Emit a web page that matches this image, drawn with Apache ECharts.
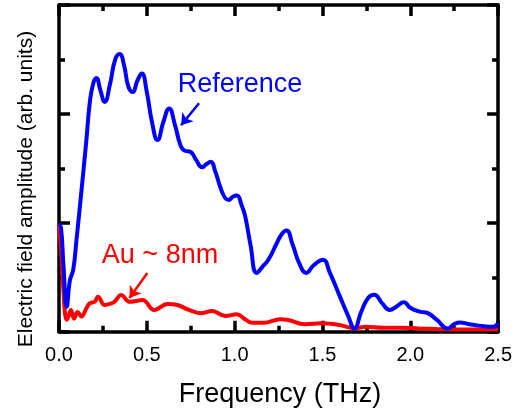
<!DOCTYPE html>
<html>
<head>
<meta charset="utf-8">
<script src="https://cdn.jsdelivr.net/npm/echarts@6/dist/echarts.min.js"></script>
<style>
  html, body { margin: 0; padding: 0; background: #fff; }
  #chart { width: 515px; height: 416px; }
</style>
</head>
<body>
<div id="chart"></div>
<script>
// Spectral amplitude, [frequency (THz), amplitude (arb. units)]
const referenceSpectrum = [
  [0.0, 0.99], [0.011, 0.96], [0.025, 0.62], [0.044, 0.23], [0.062, 0.47],
  [0.081, 0.57], [0.10, 0.85], [0.119, 1.15], [0.156, 1.76], [0.175, 2.10],
  [0.195, 2.28], [0.213, 2.33], [0.235, 2.22], [0.260, 2.11], [0.29, 2.27],
  [0.320, 2.50], [0.345, 2.55], [0.37, 2.45], [0.395, 2.25], [0.420, 2.20],
  [0.445, 2.30], [0.471, 2.37], [0.50, 2.20], [0.53, 1.92], [0.561, 1.76],
  [0.595, 1.93], [0.627, 2.05], [0.66, 1.90], [0.69, 1.72], [0.712, 1.665],
  [0.75, 1.65], [0.78, 1.58], [0.815, 1.51], [0.84, 1.54], [0.863, 1.56],
  [0.89, 1.47], [0.92, 1.32], [0.945, 1.23], [0.966, 1.21], [0.99, 1.24],
  [1.013, 1.25], [1.04, 1.16], [1.06, 1.06], [1.09, 0.80], [1.126, 0.54],
  [1.16, 0.60], [1.192, 0.66], [1.239, 0.81], [1.27, 0.90], [1.295, 0.93],
  [1.33, 0.80], [1.37, 0.62], [1.408, 0.54], [1.45, 0.61], [1.503, 0.66],
  [1.54, 0.55], [1.60, 0.32], [1.645, 0.15], [1.682, 0.03], [1.72, 0.18],
  [1.76, 0.31], [1.795, 0.34], [1.84, 0.26], [1.884, 0.20], [1.92, 0.23],
  [1.964, 0.27], [2.00, 0.22], [2.054, 0.185], [2.10, 0.17], [2.15, 0.11],
  [2.215, 0.03], [2.25, 0.07], [2.284, 0.085], [2.33, 0.07], [2.373, 0.06],
  [2.42, 0.05], [2.473, 0.045], [2.50, 0.08]
];

const goldSpectrum = [
  [0.0, 0.99], [0.012, 0.75], [0.025, 0.38], [0.034, 0.17], [0.044, 0.11],
  [0.056, 0.15], [0.068, 0.20], [0.086, 0.12], [0.106, 0.18], [0.128, 0.14],
  [0.156, 0.215], [0.175, 0.26], [0.203, 0.275], [0.222, 0.32], [0.260, 0.245],
  [0.298, 0.26], [0.316, 0.275], [0.354, 0.337], [0.401, 0.275], [0.476, 0.29],
  [0.542, 0.20], [0.618, 0.254], [0.674, 0.245], [0.740, 0.20], [0.806, 0.17],
  [0.872, 0.19], [0.947, 0.145], [1.013, 0.16], [1.055, 0.12], [1.098, 0.083],
  [1.173, 0.083], [1.258, 0.114], [1.305, 0.107], [1.399, 0.068], [1.493, 0.077],
  [1.597, 0.061], [1.682, 0.031], [1.747, 0.046], [1.842, 0.037], [1.945, 0.037],
  [2.05, 0.03], [2.15, 0.025], [2.30, 0.02], [2.50, 0.02]
];

// Annotation arrows: [tail, head] in data coordinates
const referenceArrow = [[0.797, 2.098], [0.695, 1.896]];
const goldArrow = [[0.503, 0.539], [0.401, 0.309]];

const xTicks = { min: 0, max: 2.5, interval: 0.5 };
const yTicks = { min: 0, max: 3, interval: 1 };

const BLUE = '#0000ff';
const RED = '#ff0000';
const FONT = 'Liberation Sans, Arial, sans-serif';

const frame = { show: true, onZero: false, lineStyle: { color: '#000', width: 3.5 } };
const majorTick = { show: true, inside: true, length: 11, lineStyle: { color: '#000', width: 3.5 } };
const minorTick = { show: true, splitNumber: 2, length: 6, lineStyle: { color: '#000', width: 3.5 } };

function xAxisDef(position, showLabels) {
  return {
    type: 'value', position, ...xTicks,
    axisLine: frame, axisTick: majorTick, minorTick,
    splitLine: { show: false }, minorSplitLine: { show: false },
    axisLabel: {
      show: showLabels, margin: 14, fontSize: 20, color: '#000', fontFamily: FONT,
      formatter: v => v.toFixed(1)
    }
  };
}
function yAxisDef(position) {
  return {
    type: 'value', position, ...yTicks,
    axisLine: frame, axisTick: majorTick, minorTick,
    splitLine: { show: false }, minorSplitLine: { show: false },
    axisLabel: { show: false }
  };
}

function arrow(pts, color) {
  return {
    silent: true, animation: false,
    symbol: ['none', 'arrow'], symbolSize: 11,
    label: { show: false },
    lineStyle: { type: 'solid', width: 2.5, color },
    emphasis: { disabled: true },
    data: [[{ coord: pts[0] }, { coord: pts[1] }]]
  };
}

const chart = echarts.init(document.getElementById('chart'), null, { renderer: 'canvas' });
chart.setOption({
  animation: false,
  backgroundColor: '#fff',
  grid: { left: 59, top: 5, right: 13.5, bottom: 84.3, containLabel: false },
  xAxis: [xAxisDef('bottom', true), xAxisDef('top', false)],
  yAxis: [yAxisDef('left'), yAxisDef('right')],
  series: [
    {
      name: 'Au ~ 8nm', type: 'line', data: goldSpectrum, smooth: 0.4,
      showSymbol: false, lineStyle: { color: RED, width: 4 }, itemStyle: { color: RED },
      markLine: arrow(goldArrow, RED)
    },
    {
      name: 'Reference', type: 'line', data: referenceSpectrum, smooth: 0.5,
      showSymbol: false, lineStyle: { color: BLUE, width: 4 }, itemStyle: { color: BLUE },
      markLine: arrow(referenceArrow, BLUE)
    }
  ],
  graphic: [
    {
      type: 'text', x: 240, y: 85,
      style: { text: 'Reference', fill: BLUE, font: '27px ' + FONT, textAlign: 'center', textVerticalAlign: 'middle' }
    },
    {
      type: 'text', x: 160, y: 256,
      style: { text: 'Au ~ 8nm', fill: RED, font: '27px ' + FONT, textAlign: 'center', textVerticalAlign: 'middle' }
    },
    {
      type: 'text', x: 280, y: 395,
      style: { text: 'Frequency (THz)', fill: '#000', font: '27px ' + FONT, textAlign: 'center', textVerticalAlign: 'middle' }
    },
    {
      type: 'text', x: 26, y: 189, rotation: Math.PI / 2,
      style: { text: 'Electric field amplitude (arb. units)', fill: '#000', font: '21px ' + FONT, textAlign: 'center', textVerticalAlign: 'middle' }
    }
  ]
});
</script>
</body>
</html>
